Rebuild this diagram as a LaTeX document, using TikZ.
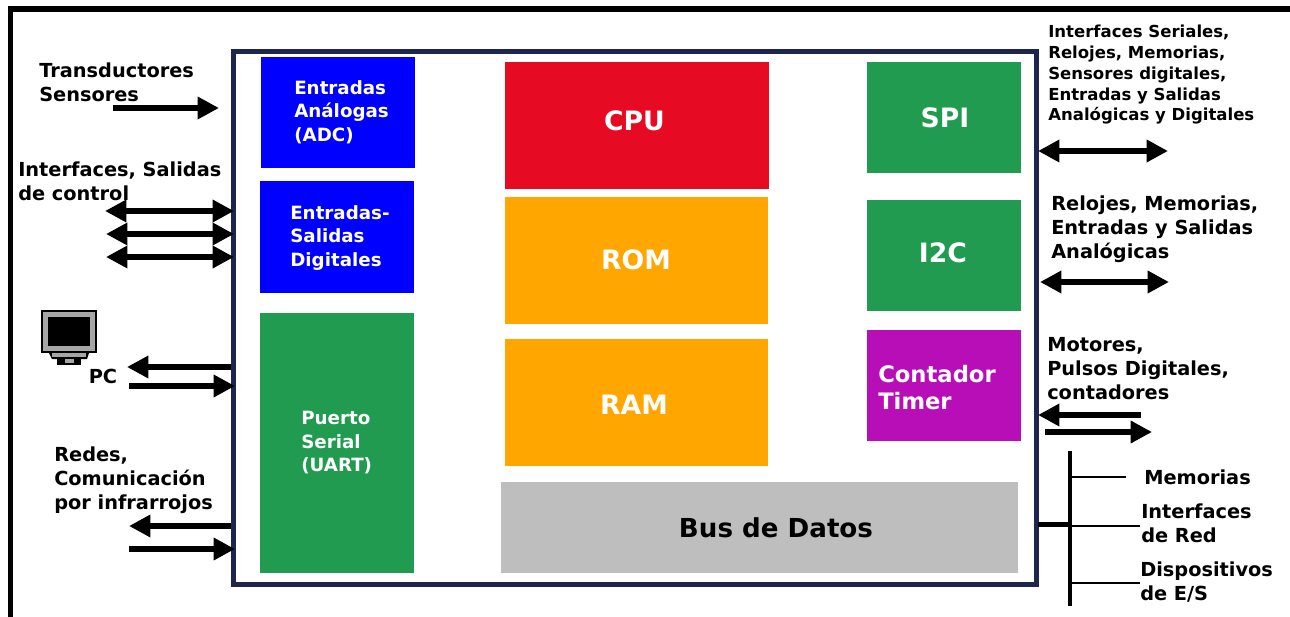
\documentclass[tikz,border=0pt]{standalone}
\usepackage{fontspec}
\setmainfont{DejaVu Sans}[BoldFont={DejaVu Sans Bold}]
\usetikzlibrary{arrows.meta}
\definecolor{cblue}{RGB}{0,0,255}
\definecolor{cgreen}{RGB}{32,155,80}
\definecolor{cred}{RGB}{230,10,35}
\definecolor{corange}{RGB}{255,166,0}
\definecolor{cpurple}{RGB}{184,14,184}
\definecolor{cgray}{RGB}{190,190,190}
\definecolor{cnavy}{RGB}{30,38,80}
\tikzset{
  x=0.75pt,y=-0.75pt,
  blockbox/.style={draw=none,inner sep=0pt,outer sep=0pt},
  lbl/.style={inner sep=0pt,anchor=north west,align=left,font=\fontsize{14.5pt}{18pt}\bfseries\selectfont},
  wlbl/.style={lbl,text=white,font=\fontsize{13.7pt}{17.7pt}\bfseries\selectfont},
  big/.style={inner sep=0pt,font=\fontsize{20pt}{24pt}\bfseries\selectfont},
  one/.style={line width=4pt,-{Triangle[length=16pt,width=16pt]}},
  both/.style={line width=4pt,{Triangle[length=16pt,width=16pt]}-{Triangle[length=16pt,width=16pt]}},
  bus/.style={line width=2pt,black},
}
\newcommand{\blk}[6]{\node[blockbox,fill=#6,minimum width=#3*0.75pt,minimum height=#4*0.75pt,anchor=north west] (#5) at (#1,#2) {};}
\begin{document}
\begin{tikzpicture}
\useasboundingbox (0,0) rectangle (1290,617);
\fill[white] (0,0) rectangle (1290,617);
% outer frame
\draw[line width=4.2pt,black] (10.5,617) -- (10.5,9) -- (1290,9);
% main box
\node[draw=cnavy,line width=3.75pt,fill=white,minimum width=803*0.75pt,minimum height=533*0.75pt,anchor=north west,inner sep=0pt,outer sep=0pt] (mcu) at (233.5,51.5) {};
% blocks
\blk{261}{57}{154}{111}{adc}{cblue}
\blk{260}{181}{154}{112}{gpio}{cblue}
\blk{260}{313}{154}{260}{uart}{cgreen}
\blk{505}{62}{264}{127}{cpu}{cred}
\blk{505}{197}{263}{127}{rom}{corange}
\blk{505}{339}{263}{127}{ram}{corange}
\blk{867}{62}{154}{111}{spi}{cgreen}
\blk{867}{200}{154}{111}{i2c}{cgreen}
\blk{867}{330}{154}{111}{timer}{cpurple}
\blk{501}{481.5}{517}{91}{busd}{cgray}
% block labels
\node[wlbl] (tadc) at (294,80) {Entradas\\Análogas\\(ADC)};
\node[wlbl] (tgpio) at (290,205) {Entradas-\\Salidas\\Digitales};
\node[wlbl] (tuart) at (301,411) {Puerto\\Serial\\(UART)};
\node[big,text=white] (tcpu) at (634.5,121) {CPU};
\node[big,text=white] (trom) at (636,260) {ROM};
\node[big,text=white] (tram) at (634,405) {RAM};
\node[big,text=white] (tspi) at (945,118) {SPI};
\node[big,text=white] (ti2c) at (943,253) {I2C};
\node[lbl,text=white,font=\fontsize{17pt}{20.5pt}\bfseries\selectfont] (ttimer) at (878,365) {Contador\\Timer};
\node[big,font=\fontsize{19.6pt}{24pt}\bfseries\selectfont] (tbus) at (776,528) {Bus de Datos};
% outside labels
\node[lbl] (l1) at (39,63) {Transductores\\Sensores};
\node[lbl] (l2) at (18,162) {Interfaces, Salidas\\de control};
\node[inner sep=0pt,font=\fontsize{14.5pt}{18pt}\bfseries\selectfont] (lpc) at (103,376) {PC};
\node[lbl] (l3) at (54,447) {Redes,\\Comunicación\\por infrarrojos};
\node[lbl,font=\fontsize{12.4pt}{15.56pt}\bfseries\selectfont] (r1) at (1048,25) {Interfaces Seriales,\\Relojes, Memorias,\\Sensores digitales,\\Entradas y Salidas\\Analógicas y Digitales};
\node[lbl] (r2) at (1051,196) {Relojes, Memorias,\\Entradas y Salidas\\Analógicas};
\node[lbl] (r3) at (1047,337) {Motores,\\Pulsos Digitales,\\contadores};
\node[lbl] (r4) at (1144,470) {Memorias};
\node[lbl] (r5) at (1141,504) {Interfaces\\de Red};
\node[lbl] (r6) at (1140,562) {Dispositivos\\de E/S};
% free ends
\foreach \n/\x/\y in {a1s/113/108,a1e/219/108,b1s/105/211,b1e/234/211,b2s/106/234,b2e/234/234,b3s/106/257,b3e/234/257,
 c1s/231/367,c1e/127/367,c2s/129/386,c2e/235/386,d1s/231/526,d1e/129/526,d2s/129/549,d2e/235/549,
 e1s/1038/151,e1e/1168/151,e2s/1040/282,e2e/1169/282,f1s/1141/415,f1e/1038/415,f2s/1045/432,f2e/1152/432,
 g1/1070/451,g2/1070/606,h1/1070/477,h2/1126/477,h3/1038/524,h4/1140/526,h5/1070/583,h6/1140/583,h7/1072/524,h8/1070/526}
  {\coordinate (\n) at (\x,\y);}
% arrows
\draw[one] (a1s) -- (a1e);
\draw[both] (b1s) -- (b1e);
\draw[both] (b2s) -- (b2e);
\draw[both] (b3s) -- (b3e);
\draw[one] (c1s) -- (c1e);
\draw[one] (c2s) -- (c2e);
\draw[one] (d1s) -- (d1e);
\draw[one] (d2s) -- (d2e);
\draw[both] (e1s) -- (e1e);
\draw[both] (e2s) -- (e2e);
\draw[one] (f1s) -- (f1e);
\draw[one] (f2s) -- (f2e);
% bus
\draw[bus,line width=2.4pt] (g1) -- (g2);
\draw[bus] (h1) -- (h2);
\draw[bus,line width=3.75pt] (h3) -- (h7);
\draw[bus] (h8) -- (h4);
\draw[bus] (h5) -- (h6);
% PC icon
\fill[black] (41,310) rectangle (97,353);
\fill[black!35] (43,312) rectangle (95,351);
\fill[black] (48,317) rectangle (90,346);
\fill[black] (49,353) -- (89,353) -- (87,359) -- (52,359) -- cycle;
\fill[black!35] (52,353) rectangle (86,357);
\fill[black] (57,359) rectangle (81,365);
\fill[black!35] (65,359) rectangle (74,363);
\end{tikzpicture}
\end{document}
